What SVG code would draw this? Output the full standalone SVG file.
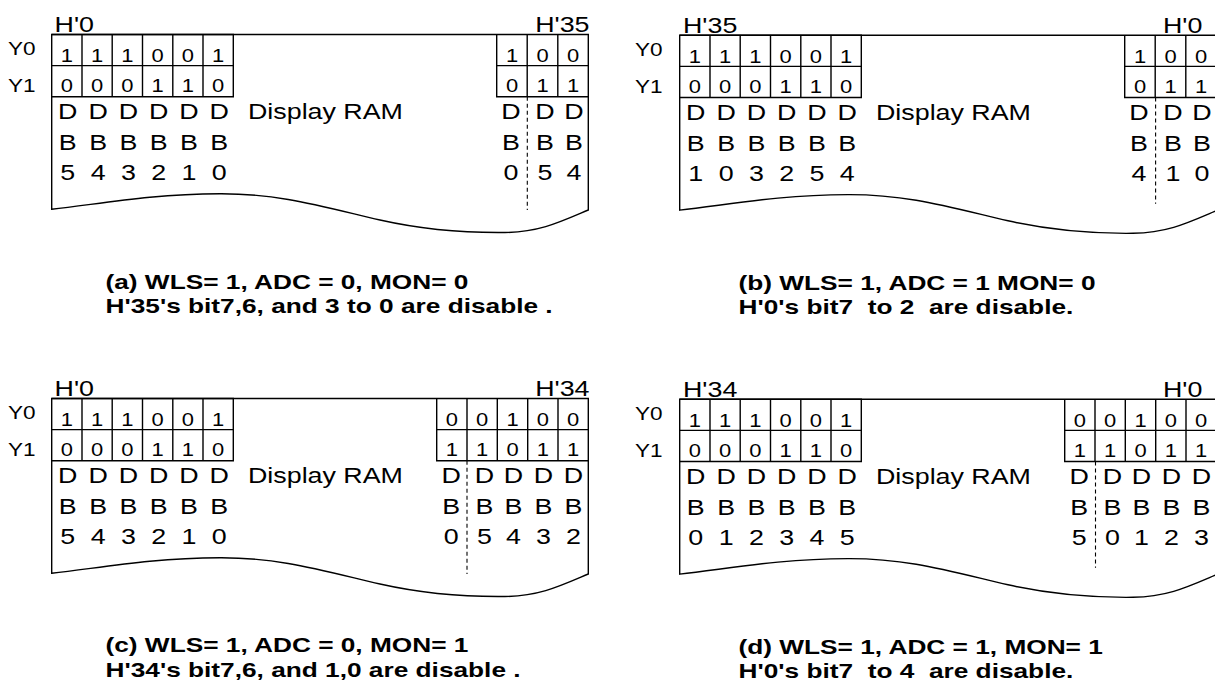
<svg xmlns="http://www.w3.org/2000/svg" width="1215" height="688" viewBox="0 0 1215 688">
<style>
text{font-family:"Liberation Sans",Arial,sans-serif;fill:#000;white-space:pre}
.h{font-size:22px}
.y{font-size:18.5px}
.c{font-size:18px;text-anchor:middle}
.d{font-size:22px;text-anchor:middle}
.r{font-size:22px}
.cap{font-size:21px;font-weight:bold}
.ln{fill:none;stroke:#000;stroke-width:1.4}
.ds{fill:none;stroke:#000;stroke-width:1.1;stroke-dasharray:4 3}
</style>
<rect width="1215" height="688" fill="#fff"/>

<g id="panel-a">
<path class="ln" d="M588.3,210V34.5H51.7V209.3C100,204 150,194 220,193.8C280,193.6 320,206 380,220C420,229 460,233 505,232.5C540,232 560,222 588.3,210Z"/>
<path class="ln" d="M51.7,34.5H233.3V96.7H51.7M51.7,65.6H233.3M82,34.5V96.7M112.2,34.5V96.7M142.5,34.5V96.7M172.8,34.5V96.7M203,34.5V96.7"/>
<path class="ln" d="M496.7,34.5V96.7H588.3M496.7,65.6H588.3M527.2,34.5V96.7M557.8,34.5V96.7"/>
<g id="connectors-a"><path class="ds" d="M527.3,96.7V210"/></g>
<text class="h" transform="translate(54.6,31.7) scale(1.22,1)">H'0</text>
<text class="h" transform="translate(535.2,31.7) scale(1.22,1)">H'35</text>
<text class="y" transform="translate(8,55) scale(1.22,1)">Y0</text>
<text class="y" transform="translate(8,91.7) scale(1.22,1)">Y1</text>
<text class="c" transform="translate(66.8,61.7) scale(1.22,1)">1<tspan x="0" y="30.6">0</tspan></text>
<text class="c" transform="translate(97.1,61.7) scale(1.22,1)">1<tspan x="0" y="30.6">0</tspan></text>
<text class="c" transform="translate(127.4,61.7) scale(1.22,1)">1<tspan x="0" y="30.6">0</tspan></text>
<text class="c" transform="translate(157.6,61.7) scale(1.22,1)">0<tspan x="0" y="30.6">1</tspan></text>
<text class="c" transform="translate(187.9,61.7) scale(1.22,1)">0<tspan x="0" y="30.6">1</tspan></text>
<text class="c" transform="translate(218.2,61.7) scale(1.22,1)">1<tspan x="0" y="30.6">0</tspan></text>
<text class="c" transform="translate(512,61.7) scale(1.22,1)">1<tspan x="0" y="30.6">0</tspan></text>
<text class="c" transform="translate(542.5,61.7) scale(1.22,1)">0<tspan x="0" y="30.6">1</tspan></text>
<text class="c" transform="translate(573,61.7) scale(1.22,1)">0<tspan x="0" y="30.6">1</tspan></text>
<text class="d" transform="translate(67.8,119) scale(1.22,1)">D<tspan x="0" y="31">B</tspan><tspan x="0" y="61.5">5</tspan></text>
<text class="d" transform="translate(98.1,119) scale(1.22,1)">D<tspan x="0" y="31">B</tspan><tspan x="0" y="61.5">4</tspan></text>
<text class="d" transform="translate(128.4,119) scale(1.22,1)">D<tspan x="0" y="31">B</tspan><tspan x="0" y="61.5">3</tspan></text>
<text class="d" transform="translate(158.6,119) scale(1.22,1)">D<tspan x="0" y="31">B</tspan><tspan x="0" y="61.5">2</tspan></text>
<text class="d" transform="translate(188.9,119) scale(1.22,1)">D<tspan x="0" y="31">B</tspan><tspan x="0" y="61.5">1</tspan></text>
<text class="d" transform="translate(219.2,119) scale(1.22,1)">D<tspan x="0" y="31">B</tspan><tspan x="0" y="61.5">0</tspan></text>
<text class="d" transform="translate(511,119) scale(1.22,1)">D<tspan x="0" y="31">B</tspan><tspan x="0" y="61.5">0</tspan></text>
<text class="d" transform="translate(545,119) scale(1.22,1)">D<tspan x="0" y="31">B</tspan><tspan x="0" y="61.5">5</tspan></text>
<text class="d" transform="translate(574,119) scale(1.22,1)">D<tspan x="0" y="31">B</tspan><tspan x="0" y="61.5">4</tspan></text>
<text class="r" transform="translate(248,119) scale(1.22,1)">Display RAM</text>
<text class="cap" transform="translate(105.5,288.5) scale(1.25,1)">(a) WLS= 1, ADC = 0, MON= 0</text>
<text class="cap" transform="translate(105.5,312.5) scale(1.25,1)">H'35's bit7,6, and 3 to 0 are disable .</text>
</g>

<g id="panel-b" transform="translate(628,0.8)">
<path class="ln" d="M588.3,210V34.5H51.7V209.3C100,204 150,194 220,193.8C280,193.6 320,206 380,220C420,229 460,233 505,232.5C540,232 560,222 588.3,210Z"/>
<path class="ln" d="M51.7,34.5H233.3V96.7H51.7M51.7,65.6H233.3M82,34.5V96.7M112.2,34.5V96.7M142.5,34.5V96.7M172.8,34.5V96.7M203,34.5V96.7"/>
<path class="ln" d="M496.7,34.5V96.7H588.3M496.7,65.6H588.3M527.2,34.5V96.7M557.8,34.5V96.7"/>
<g id="connectors-b"><path class="ds" d="M527.6,96.7V203"/></g>
<text class="h" transform="translate(55,31.7) scale(1.22,1)">H'35</text>
<text class="h" transform="translate(535,31.7) scale(1.22,1)">H'0</text>
<text class="y" transform="translate(7,55) scale(1.22,1)">Y0</text>
<text class="y" transform="translate(7,91.7) scale(1.22,1)">Y1</text>
<text class="c" transform="translate(66.8,61.7) scale(1.22,1)">1<tspan x="0" y="30.6">0</tspan></text>
<text class="c" transform="translate(97.1,61.7) scale(1.22,1)">1<tspan x="0" y="30.6">0</tspan></text>
<text class="c" transform="translate(127.4,61.7) scale(1.22,1)">1<tspan x="0" y="30.6">0</tspan></text>
<text class="c" transform="translate(157.6,61.7) scale(1.22,1)">0<tspan x="0" y="30.6">1</tspan></text>
<text class="c" transform="translate(187.9,61.7) scale(1.22,1)">0<tspan x="0" y="30.6">1</tspan></text>
<text class="c" transform="translate(218.2,61.7) scale(1.22,1)">1<tspan x="0" y="30.6">0</tspan></text>
<text class="c" transform="translate(512,61.7) scale(1.22,1)">1<tspan x="0" y="30.6">0</tspan></text>
<text class="c" transform="translate(542.5,61.7) scale(1.22,1)">0<tspan x="0" y="30.6">1</tspan></text>
<text class="c" transform="translate(573,61.7) scale(1.22,1)">0<tspan x="0" y="30.6">1</tspan></text>
<text class="d" transform="translate(67.8,119) scale(1.22,1)">D<tspan x="0" y="31">B</tspan><tspan x="0" y="61.5">1</tspan></text>
<text class="d" transform="translate(98.1,119) scale(1.22,1)">D<tspan x="0" y="31">B</tspan><tspan x="0" y="61.5">0</tspan></text>
<text class="d" transform="translate(128.4,119) scale(1.22,1)">D<tspan x="0" y="31">B</tspan><tspan x="0" y="61.5">3</tspan></text>
<text class="d" transform="translate(158.6,119) scale(1.22,1)">D<tspan x="0" y="31">B</tspan><tspan x="0" y="61.5">2</tspan></text>
<text class="d" transform="translate(188.9,119) scale(1.22,1)">D<tspan x="0" y="31">B</tspan><tspan x="0" y="61.5">5</tspan></text>
<text class="d" transform="translate(219.2,119) scale(1.22,1)">D<tspan x="0" y="31">B</tspan><tspan x="0" y="61.5">4</tspan></text>
<text class="d" transform="translate(511,119) scale(1.22,1)">D<tspan x="0" y="31">B</tspan><tspan x="0" y="61.5">4</tspan></text>
<text class="d" transform="translate(545,119) scale(1.22,1)">D<tspan x="0" y="31">B</tspan><tspan x="0" y="61.5">1</tspan></text>
<text class="d" transform="translate(574,119) scale(1.22,1)">D<tspan x="0" y="31">B</tspan><tspan x="0" y="61.5">0</tspan></text>
<text class="r" transform="translate(248,119) scale(1.22,1)">Display RAM</text>
<text class="cap" transform="translate(110.5,289.5) scale(1.25,1)">(b) WLS= 1, ADC = 1 MON= 0</text>
<text class="cap" transform="translate(110.5,313.5) scale(1.25,1)">H'0's bit7  to 2  are disable.</text>
</g>

<g id="panel-c" transform="translate(0,364)">
<path class="ln" d="M588.3,210V34.5H51.7V209.3C100,204 150,194 220,193.8C280,193.6 320,206 380,220C420,229 460,233 505,232.5C540,232 560,222 588.3,210Z"/>
<path class="ln" d="M51.7,34.5H233.3V96.7H51.7M51.7,65.6H233.3M82,34.5V96.7M112.2,34.5V96.7M142.5,34.5V96.7M172.8,34.5V96.7M203,34.5V96.7"/>
<path class="ln" d="M436.7,34.5V96.7H588.3M436.7,65.6H588.3M467,34.5V96.7M497.3,34.5V96.7M527.7,34.5V96.7M558,34.5V96.7"/>
<g id="connectors-c"><path class="ds" d="M467,96.7V210"/></g>
<text class="h" transform="translate(54.6,31.7) scale(1.22,1)">H'0</text>
<text class="h" transform="translate(535.2,31.7) scale(1.22,1)">H'34</text>
<text class="y" transform="translate(8,55) scale(1.22,1)">Y0</text>
<text class="y" transform="translate(8,91.7) scale(1.22,1)">Y1</text>
<text class="c" transform="translate(66.8,61.7) scale(1.22,1)">1<tspan x="0" y="30.6">0</tspan></text>
<text class="c" transform="translate(97.1,61.7) scale(1.22,1)">1<tspan x="0" y="30.6">0</tspan></text>
<text class="c" transform="translate(127.4,61.7) scale(1.22,1)">1<tspan x="0" y="30.6">0</tspan></text>
<text class="c" transform="translate(157.6,61.7) scale(1.22,1)">0<tspan x="0" y="30.6">1</tspan></text>
<text class="c" transform="translate(187.9,61.7) scale(1.22,1)">0<tspan x="0" y="30.6">1</tspan></text>
<text class="c" transform="translate(218.2,61.7) scale(1.22,1)">1<tspan x="0" y="30.6">0</tspan></text>
<text class="c" transform="translate(451.9,61.7) scale(1.22,1)">0<tspan x="0" y="30.6">1</tspan></text>
<text class="c" transform="translate(482.2,61.7) scale(1.22,1)">0<tspan x="0" y="30.6">1</tspan></text>
<text class="c" transform="translate(512.5,61.7) scale(1.22,1)">1<tspan x="0" y="30.6">0</tspan></text>
<text class="c" transform="translate(542.8,61.7) scale(1.22,1)">0<tspan x="0" y="30.6">1</tspan></text>
<text class="c" transform="translate(573.1,61.7) scale(1.22,1)">0<tspan x="0" y="30.6">1</tspan></text>
<text class="d" transform="translate(67.8,119) scale(1.22,1)">D<tspan x="0" y="31">B</tspan><tspan x="0" y="61.5">5</tspan></text>
<text class="d" transform="translate(98.1,119) scale(1.22,1)">D<tspan x="0" y="31">B</tspan><tspan x="0" y="61.5">4</tspan></text>
<text class="d" transform="translate(128.4,119) scale(1.22,1)">D<tspan x="0" y="31">B</tspan><tspan x="0" y="61.5">3</tspan></text>
<text class="d" transform="translate(158.6,119) scale(1.22,1)">D<tspan x="0" y="31">B</tspan><tspan x="0" y="61.5">2</tspan></text>
<text class="d" transform="translate(188.9,119) scale(1.22,1)">D<tspan x="0" y="31">B</tspan><tspan x="0" y="61.5">1</tspan></text>
<text class="d" transform="translate(219.2,119) scale(1.22,1)">D<tspan x="0" y="31">B</tspan><tspan x="0" y="61.5">0</tspan></text>
<text class="d" transform="translate(451.2,119) scale(1.22,1)">D<tspan x="0" y="31">B</tspan><tspan x="0" y="61.5">0</tspan></text>
<text class="d" transform="translate(484.5,119) scale(1.22,1)">D<tspan x="0" y="31">B</tspan><tspan x="0" y="61.5">5</tspan></text>
<text class="d" transform="translate(513.5,119) scale(1.22,1)">D<tspan x="0" y="31">B</tspan><tspan x="0" y="61.5">4</tspan></text>
<text class="d" transform="translate(543.5,119) scale(1.22,1)">D<tspan x="0" y="31">B</tspan><tspan x="0" y="61.5">3</tspan></text>
<text class="d" transform="translate(573.5,119) scale(1.22,1)">D<tspan x="0" y="31">B</tspan><tspan x="0" y="61.5">2</tspan></text>
<text class="r" transform="translate(248,119) scale(1.22,1)">Display RAM</text>
<text class="cap" transform="translate(105.5,288) scale(1.25,1)">(c) WLS= 1, ADC = 0, MON= 1</text>
<text class="cap" transform="translate(105.5,312.5) scale(1.25,1)">H'34's bit7,6, and 1,0 are disable .</text>
</g>

<g id="panel-d" transform="translate(628,364.8)">
<path class="ln" d="M588.3,210V34.5H51.7V209.3C100,204 150,194 220,193.8C280,193.6 320,206 380,220C420,229 460,233 505,232.5C540,232 560,222 588.3,210Z"/>
<path class="ln" d="M51.7,34.5H233.3V96.7H51.7M51.7,65.6H233.3M82,34.5V96.7M112.2,34.5V96.7M142.5,34.5V96.7M172.8,34.5V96.7M203,34.5V96.7"/>
<path class="ln" d="M436.7,34.5V96.7H588.3M436.7,65.6H588.3M467,34.5V96.7M497.3,34.5V96.7M527.7,34.5V96.7M558,34.5V96.7"/>
<g id="connectors-d"><path class="ds" d="M467.5,96.7V203"/></g>
<text class="h" transform="translate(55,31.7) scale(1.22,1)">H'34</text>
<text class="h" transform="translate(535,31.7) scale(1.22,1)">H'0</text>
<text class="y" transform="translate(7,55) scale(1.22,1)">Y0</text>
<text class="y" transform="translate(7,91.7) scale(1.22,1)">Y1</text>
<text class="c" transform="translate(66.8,61.7) scale(1.22,1)">1<tspan x="0" y="30.6">0</tspan></text>
<text class="c" transform="translate(97.1,61.7) scale(1.22,1)">1<tspan x="0" y="30.6">0</tspan></text>
<text class="c" transform="translate(127.4,61.7) scale(1.22,1)">1<tspan x="0" y="30.6">0</tspan></text>
<text class="c" transform="translate(157.6,61.7) scale(1.22,1)">0<tspan x="0" y="30.6">1</tspan></text>
<text class="c" transform="translate(187.9,61.7) scale(1.22,1)">0<tspan x="0" y="30.6">1</tspan></text>
<text class="c" transform="translate(218.2,61.7) scale(1.22,1)">1<tspan x="0" y="30.6">0</tspan></text>
<text class="c" transform="translate(451.9,61.7) scale(1.22,1)">0<tspan x="0" y="30.6">1</tspan></text>
<text class="c" transform="translate(482.2,61.7) scale(1.22,1)">0<tspan x="0" y="30.6">1</tspan></text>
<text class="c" transform="translate(512.5,61.7) scale(1.22,1)">1<tspan x="0" y="30.6">0</tspan></text>
<text class="c" transform="translate(542.8,61.7) scale(1.22,1)">0<tspan x="0" y="30.6">1</tspan></text>
<text class="c" transform="translate(573.1,61.7) scale(1.22,1)">0<tspan x="0" y="30.6">1</tspan></text>
<text class="d" transform="translate(67.8,119) scale(1.22,1)">D<tspan x="0" y="31">B</tspan><tspan x="0" y="61.5">0</tspan></text>
<text class="d" transform="translate(98.1,119) scale(1.22,1)">D<tspan x="0" y="31">B</tspan><tspan x="0" y="61.5">1</tspan></text>
<text class="d" transform="translate(128.4,119) scale(1.22,1)">D<tspan x="0" y="31">B</tspan><tspan x="0" y="61.5">2</tspan></text>
<text class="d" transform="translate(158.6,119) scale(1.22,1)">D<tspan x="0" y="31">B</tspan><tspan x="0" y="61.5">3</tspan></text>
<text class="d" transform="translate(188.9,119) scale(1.22,1)">D<tspan x="0" y="31">B</tspan><tspan x="0" y="61.5">4</tspan></text>
<text class="d" transform="translate(219.2,119) scale(1.22,1)">D<tspan x="0" y="31">B</tspan><tspan x="0" y="61.5">5</tspan></text>
<text class="d" transform="translate(451.2,119) scale(1.22,1)">D<tspan x="0" y="31">B</tspan><tspan x="0" y="61.5">5</tspan></text>
<text class="d" transform="translate(484.5,119) scale(1.22,1)">D<tspan x="0" y="31">B</tspan><tspan x="0" y="61.5">0</tspan></text>
<text class="d" transform="translate(513.5,119) scale(1.22,1)">D<tspan x="0" y="31">B</tspan><tspan x="0" y="61.5">1</tspan></text>
<text class="d" transform="translate(543.5,119) scale(1.22,1)">D<tspan x="0" y="31">B</tspan><tspan x="0" y="61.5">2</tspan></text>
<text class="d" transform="translate(573.5,119) scale(1.22,1)">D<tspan x="0" y="31">B</tspan><tspan x="0" y="61.5">3</tspan></text>
<text class="r" transform="translate(248,119) scale(1.22,1)">Display RAM</text>
<text class="cap" transform="translate(110.5,289.5) scale(1.25,1)">(d) WLS= 1, ADC = 1, MON= 1</text>
<text class="cap" transform="translate(110.5,313.5) scale(1.25,1)">H'0's bit7  to 4  are disable.</text>
</g>
</svg>
